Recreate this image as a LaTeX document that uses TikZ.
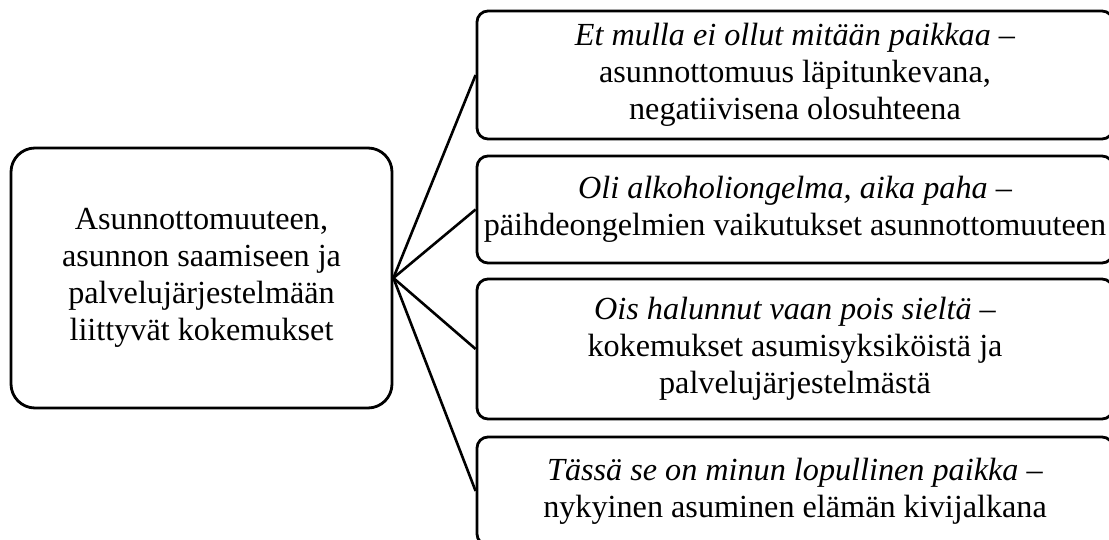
\documentclass[tikz,border=0pt]{standalone}
\usepackage{fontspec}
\setmainfont{Liberation Serif}
\usetikzlibrary{positioning}

\begin{document}
\begin{tikzpicture}[
    x=1pt, y=-1pt,
    theme/.style={rectangle, draw, rounded corners=24pt, line width=2.8pt, minimum width=381pt, minimum height=260pt, align=center, font=\fontsize{32.2}{37}\selectfont},
    sub/.style={rectangle, draw, rounded corners=11pt, line width=2.8pt, minimum width=636pt, inner sep=2pt, align=center, font=\fontsize{32.2}{37}\selectfont},
    link/.style={line width=2.6pt}
]
\useasboundingbox (0,0) rectangle (1109,540);
\clip (0,0) rectangle (1109,540);

% Nodes
\node[theme] (main) at (201.5,278) {Asunnottomuuteen,\\ asunnon saamiseen ja\\ palvelujärjestelmään\\ liittyvät kokemukset};
\node[sub, minimum height=128pt] (place) at (795,75) {\textit{Et mulla ei ollut mitään paikkaa} –\\ asunnottomuus läpitunkevana,\\ negatiivisena olosuhteena};
\node[sub, minimum height=107pt] (alcohol) at (795,209.5) {\textit{Oli alkoholiongelma, aika paha} –\\ päihdeongelmien vaikutukset asunnottomuuteen};
\node[sub, minimum height=140pt] (away) at (795,349) {\textit{Ois halunnut vaan pois sieltä} –\\ kokemukset asumisyksiköistä ja\\ palvelujärjestelmästä};
\node[sub, minimum height=108pt] (home) at (795,491) {\textit{Tässä se on minun lopullinen paikka –}\\ nykyinen asuminen elämän kivijalkana};

% Connectors
\draw[link] (main.east) -- (place.west);
\draw[link] (main.east) -- (alcohol.west);
\draw[link] (main.east) -- (away.west);
\draw[link] (main.east) -- (home.west);

\end{tikzpicture}
\end{document}
